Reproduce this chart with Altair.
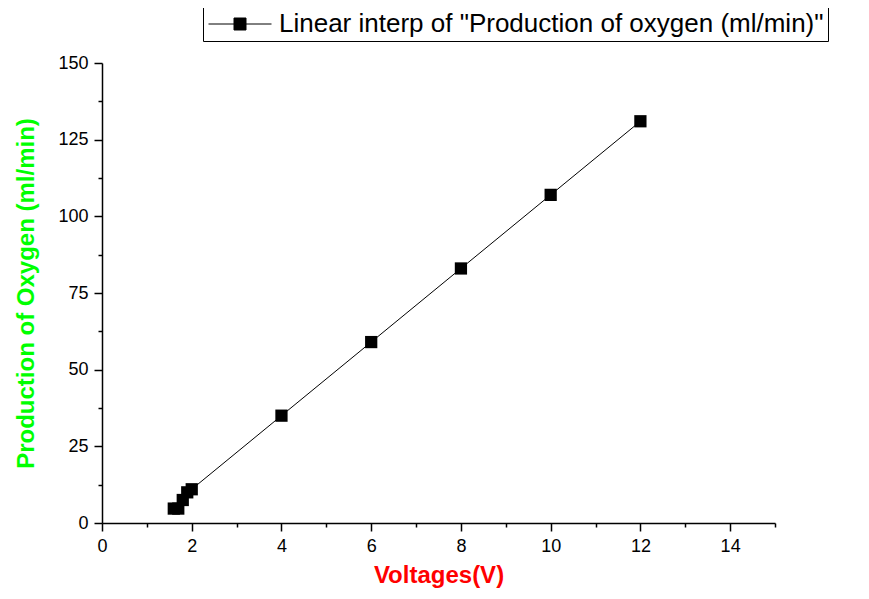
import altair as alt
import pandas as pd

voltages = [1.6, 1.7, 1.8, 1.9, 2.0, 4, 6, 8, 10, 12]
oxygen = [4.7, 4.7, 7.5, 10, 11, 35, 59, 83, 107, 131]
series_name = 'Linear interp of "Production of oxygen (ml/min)"'
x_major = [0, 2, 4, 6, 8, 10, 12, 14]
x_minor = [1, 3, 5, 7, 9, 11, 13, 15]
y_major = [0, 25, 50, 75, 100, 125, 150]
y_minor = [12.5, 37.5, 62.5, 87.5, 112.5, 137.5]

df = pd.DataFrame({"V": voltages, "O2": oxygen, "series": [series_name] * len(voltages)})

FONT = "Liberation Sans"
xscale = alt.Scale(domain=[0, 15], nice=False, zero=False)
yscale = alt.Scale(domain=[0, 150], nice=False)

x_axis = alt.Axis(values=x_major, title="Voltages(V)", titleColor="#FF0000", titleFontSize=24,
                  titleFontWeight="bold", titleFont=FONT, labelFont=FONT, labelFontSize=18,
                  labelColor="black", tickSize=8, tickColor="black", domainColor="black",
                  domainWidth=1.5, tickWidth=1.5, labelPadding=6, titlePadding=8, grid=False,
                  labelFlush=False, orient="bottom")
y_axis = alt.Axis(values=y_major, title="Production of Oxygen (ml/min)", titleColor="#00FF00",
                  titleFontSize=24, titleFontWeight="bold", titleFont=FONT, labelFont=FONT,
                  labelFontSize=18, labelColor="black", tickSize=8, tickColor="black",
                  domainColor="black", domainWidth=1.5, tickWidth=1.5, labelPadding=6,
                  titlePadding=19, grid=False, labelFlush=False, orient="left")

x_minor_axis = alt.Axis(values=x_minor, labels=False, domain=False, tickSize=4, tickWidth=1.5,
                        tickColor="black", title=None, orient="bottom", grid=False)
y_minor_axis = alt.Axis(values=y_minor, labels=False, domain=False, tickSize=4, tickWidth=1.5,
                        tickColor="black", title=None, orient="left", grid=False)

legend = alt.Legend(title=None, orient="none", legendX=101, legendY=-56,
                    symbolType="M-5.25,0H5.25M-1,-1H1V1H-1Z", symbolSize=144, symbolOffset=20,
                    symbolFillColor="black", symbolStrokeColor="black", symbolStrokeWidth=1,
                    labelFont=FONT, labelFontSize=26, labelColor="black", labelOffset=26,
                    strokeColor="black", padding=4, fillColor="white", labelLimit=0)

line = alt.Chart(df).mark_line(
    color="black", strokeWidth=1,
    point=alt.OverlayMarkDef(shape="square", size=150, filled=True, color="black", opacity=1)
).encode(
    x=alt.X("V:Q", scale=xscale, axis=x_axis),
    y=alt.Y("O2:Q", scale=yscale, axis=y_axis),
    color=alt.Color("series:N", scale=alt.Scale(range=["black"]), legend=legend),
)

minor = alt.Chart(df).mark_point(opacity=0).encode(
    x=alt.X("V:Q", scale=xscale, axis=x_minor_axis),
    y=alt.Y("O2:Q", scale=yscale, axis=y_minor_axis),
)

chart = alt.layer(line, minor).resolve_axis(x="independent", y="independent").properties(
    width=673, height=460,
    autosize=alt.AutoSizeParams(type="none"),
    padding={"left": 94, "top": 55, "right": 80, "bottom": 68},
).configure(background="white").configure_view(strokeWidth=0, stroke="transparent")

chart.save("out.html", embed_options={"renderer": "svg", "actions": False})
